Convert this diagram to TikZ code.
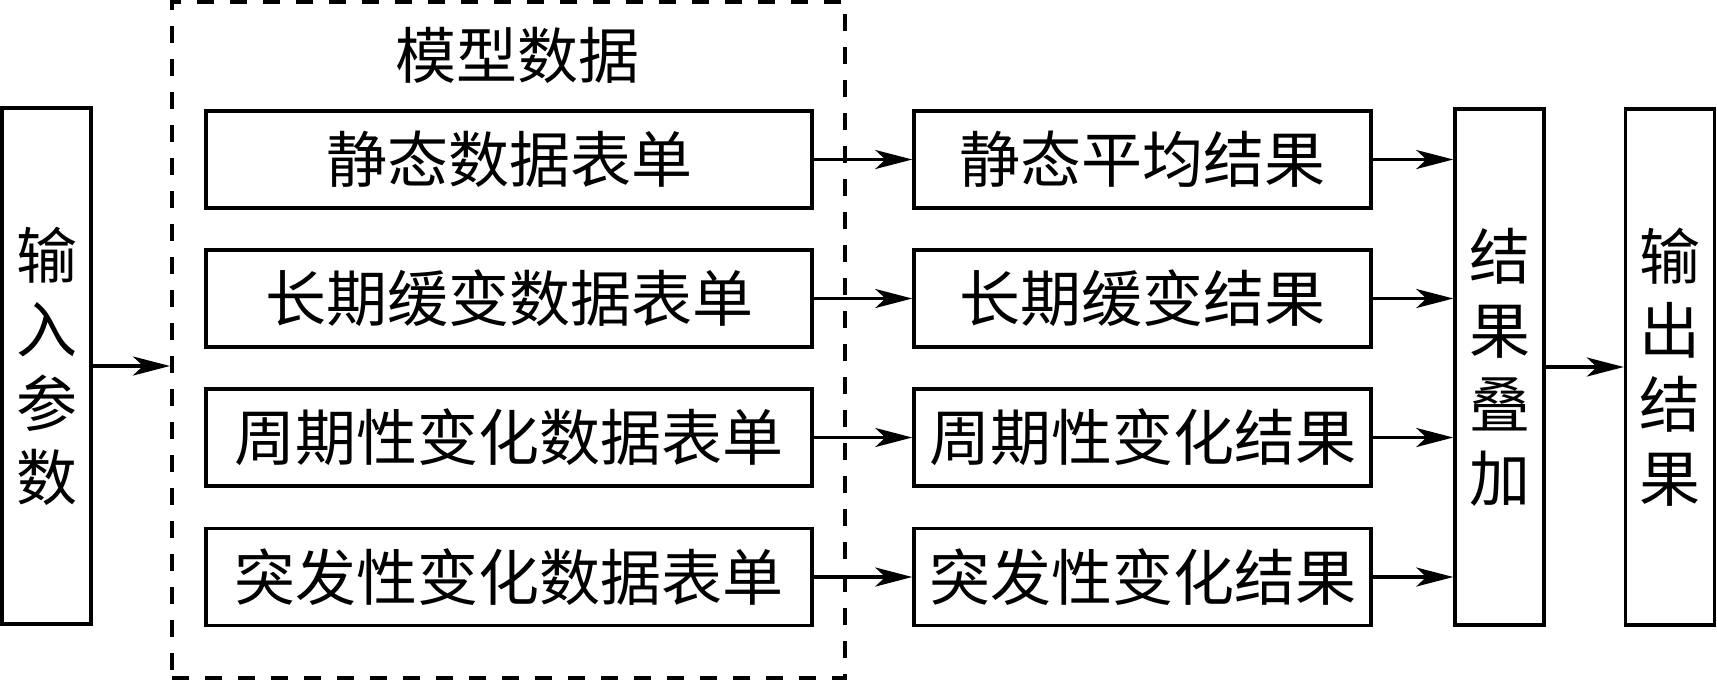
\documentclass[tikz,border=0pt]{standalone}
\usepackage{fontspec}
\newfontfamily\cjk{Noto Sans CJK SC}
\usetikzlibrary{arrows.meta}
\begin{document}
\begin{tikzpicture}[x=0.5pt,y=-0.5pt,
  box/.style={draw,line width=1.7pt,inner sep=0pt,font=\cjk\fontsize{30.5}{37}\selectfont,align=center},
  rowbox/.style={box,minimum width=303pt,minimum height=48.5pt},
  midbox/.style={box,minimum width=228.5pt,minimum height=48.5pt},
  tallbox/.style={box,minimum width=44.5pt,minimum height=258pt},
  conn/.style={line width=1.7pt,-{Stealth[length=18.5pt,width=9.5pt,inset=5pt]}}]
\useasboundingbox (0,0) rectangle (1717,682);
\node[draw,dash pattern=on 8.5pt off 8pt,line width=2pt,minimum width=336.5pt,minimum height=338pt,inner sep=0pt] (model) at (508.5,340) {};
\node[font=\cjk\fontsize{30.5}{37}\selectfont] (title) at (517,55) {模型数据};
\node[tallbox] (in) at (46.6,366) {输\\入\\参\\数};
\node[rowbox] (l1) at (509,159.5) {静态数据表单};
\node[rowbox] (l2) at (509,298.5) {长期缓变数据表单};
\node[rowbox] (l3) at (509,437.5) {周期性变化数据表单};
\node[rowbox] (l4) at (509,577) {突发性变化数据表单};
\node[midbox] (m1) at (1142.5,159.5) {静态平均结果};
\node[midbox] (m2) at (1142.5,298.5) {长期缓变结果};
\node[midbox] (m3) at (1142.5,437.5) {周期性变化结果};
\node[midbox] (m4) at (1142.5,577) {突发性变化结果};
\node[tallbox] (sum) at (1499.5,367) {结\\果\\叠\\加};
\node[tallbox] (out) at (1670,367) {输\\出\\结\\果};
\draw[conn] (in.east) -- (in.east -| model.west);
\foreach \i in {1,2,3,4}{
  \draw[conn] (l\i.east) -- (m\i.west);
  \draw[conn] (m\i.east) -- (m\i.east -| sum.west);
}
\draw[conn] (sum.east) -- (out.west);
\end{tikzpicture}
\end{document}
